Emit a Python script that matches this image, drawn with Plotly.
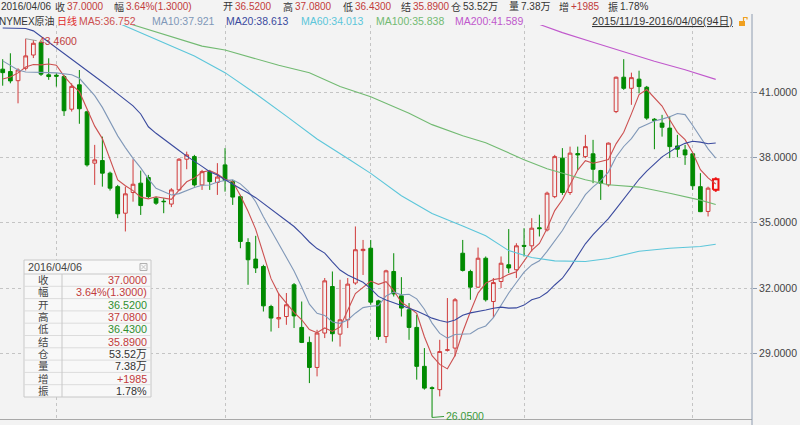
import plotly.graph_objects as go

# ---------------- data ----------------
opens = [42.06, 41.95, 41.53, 42.10, 42.71, 43.28, 41.80, 41.78, 41.72, 40.22,
         41.34, 40.10, 37.74, 37.86, 37.28, 36.66, 35.44, 36.39, 36.82, 37.08,
         36.13, 35.99, 35.86, 36.51, 37.92, 38.04, 36.74, 37.35, 36.85, 37.66,
         36.89, 36.20, 34.09, 33.33, 32.99, 31.15, 30.58, 30.69, 32.15, 30.19,
         29.50, 28.35, 29.93, 32.07, 29.88, 30.54, 32.23, 33.72, 33.83, 31.41,
         29.77, 32.76, 31.64, 31.00, 30.19, 28.40, 27.42, 27.33, 29.14, 29.24,
         33.60, 32.76, 32.04, 33.37, 31.38, 32.30, 33.07, 32.84, 33.96, 33.94,
         34.77, 34.67, 36.20, 37.97, 36.39, 38.18, 38.04, 38.17, 37.40, 36.74,
         40.11, 41.69, 41.18, 41.60, 41.23, 39.76, 39.58, 39.35, 38.53, 38.35,
         38.17, 36.66, 35.52, 36.52]
highs = [42.52, 42.79, 42.10, 43.46, 43.40, 43.37, 42.56, 41.87, 41.80, 41.41,
         42.02, 40.15, 38.58, 38.96, 37.35, 36.74, 36.66, 37.92, 37.40, 37.20,
         36.20, 36.13, 36.59, 37.97, 38.27, 38.12, 37.43, 37.43, 37.74, 38.43,
         36.97, 36.28, 34.29, 34.40, 33.07, 31.23, 31.77, 31.77, 32.23, 31.38,
         29.77, 30.08, 32.46, 32.76, 32.38, 32.46, 34.83, 34.21, 34.21, 31.46,
         32.84, 33.60, 32.50, 31.31, 30.77, 29.24, 27.48, 29.62, 31.54, 31.54,
         34.21, 32.84, 33.86, 33.45, 32.46, 33.45, 34.71, 34.06, 34.75, 35.21,
         35.37, 36.43, 38.12, 38.43, 38.50, 38.50, 39.04, 38.81, 37.43, 38.69,
         41.72, 42.52, 41.90, 41.99, 41.29, 39.81, 39.96, 39.88, 39.04, 38.58,
         38.17, 37.28, 36.66, 37.08]
lows = [41.30, 41.41, 40.49, 42.00, 42.57, 41.75, 41.57, 41.26, 39.91, 40.11,
        39.55, 37.58, 36.74, 36.66, 36.48, 35.21, 34.60, 35.97, 35.36, 36.13,
        35.82, 35.44, 35.72, 36.48, 37.46, 36.66, 36.51, 36.51, 36.28, 36.43,
        35.82, 33.83, 32.15, 32.69, 30.92, 30.00, 30.16, 30.31, 30.16, 29.47,
        27.63, 27.94, 29.70, 29.54, 29.31, 30.16, 32.15, 32.60, 31.23, 29.62,
        29.47, 31.61, 30.69, 29.62, 27.79, 27.33, 26.05, 27.02, 29.08, 28.86,
        32.76, 31.46, 32.00, 31.38, 30.62, 32.00, 32.69, 32.46, 33.45, 33.68,
        34.37, 34.60, 36.13, 36.28, 36.28, 37.43, 37.97, 36.82, 36.05, 36.66,
        40.04, 41.11, 40.42, 40.95, 39.73, 38.38, 38.96, 37.97, 38.01, 37.66,
        36.51, 35.49, 35.29, 36.43]
closes = [41.90, 41.52, 42.02, 42.67, 43.25, 41.83, 41.72, 41.74, 40.15, 41.27,
          40.24, 37.66, 37.89, 37.28, 36.59, 35.41, 36.33, 36.77, 35.79, 36.20,
          35.90, 35.97, 36.51, 37.92, 38.12, 36.74, 37.35, 36.89, 37.10, 36.94,
          36.18, 34.14, 33.30, 32.92, 31.18, 30.62, 30.64, 31.23, 30.72, 29.50,
          28.35, 29.93, 32.33, 29.90, 30.54, 32.18, 33.76, 33.78, 31.35, 29.77,
          32.79, 31.73, 31.08, 30.19, 28.40, 27.40, 27.38, 29.08, 29.16, 31.46,
          32.81, 32.04, 33.37, 31.46, 32.25, 33.14, 32.92, 33.94, 33.92, 34.75,
          34.73, 36.36, 38.04, 36.39, 38.20, 38.12, 38.50, 37.46, 36.82, 38.66,
          41.69, 41.18, 41.67, 41.26, 39.81, 39.70, 39.39, 38.50, 38.38, 38.12,
          36.70, 35.51, 36.59, 37.00]

# moving-average values at the left edge (before enough bars exist)
ma5_head = [41.61, 41.70, 41.89, 42.16]
ma10_head = [42.44, 42.21, 42.02, 41.93, 41.91, 41.90, 41.90, 41.89, 41.84]
ma20_head = [43.95, 43.95, 43.94, 43.93, 43.82, 43.56, 43.31, 43.06, 42.81, 42.53,
             42.25, 42.00, 41.75, 41.47, 41.20, 40.92, 40.65, 40.37, 40.00]

# long moving averages at selected bars
ma60_bars = [12, 16, 20, 25, 29, 33, 37, 41, 45, 48, 52, 56, 60, 63, 66, 69, 72, 76, 79, 83, 87, 91, 93]
ma60_vals = [44.65, 44.04, 43.40, 42.66, 41.90, 40.93, 39.90, 38.85, 37.95, 37.27, 36.24, 35.43,
             34.85, 34.40, 33.72, 33.40, 33.25, 33.22, 33.36, 33.69, 33.83, 33.91, 34.01]
ma100_bars = [13, 17, 21, 26, 29, 33, 36, 40, 44, 48, 53, 56, 60, 63, 68, 71, 76, 79, 83, 87, 91, 93]
ma100_vals = [44.53, 44.09, 43.66, 43.12, 42.94, 42.56, 42.24, 41.90, 41.26, 40.79, 40.03, 39.51,
              39.00, 38.68, 37.90, 37.48, 36.98, 36.75, 36.64, 36.36, 36.04, 35.84]
ma200_bars = [70, 73, 77, 80, 85, 89, 93]
ma200_vals = [44.12, 43.74, 43.30, 42.96, 42.42, 42.03, 41.59]

month_start_bars = [7, 29, 48, 68, 90]
y_ticks = [29, 32, 35, 38, 41]

quote_date = "2016/04/06"
info_labels = ["收", "幅", "开", "高", "低", "结", "仓", "量", "增", "振"]
info_values = ["37.0000", "3.64%(1.3000)", "36.5200", "37.0800", "36.4300",
               "35.8900", "53.52万", "7.38万", "+1985", "1.78%"]
ma_names = ["MA5", "MA10", "MA20", "MA60", "MA100", "MA200"]
ma_last = ["36.752", "37.921", "38.613", "34.013", "35.838", "41.589"]
instrument = "NYMEX原油"
period = "日线"
range_text = "2015/11/19-2016/04/06(94日)"

# ---------------- styling ----------------
BG = "#f3f3f3"
RED = "#c23b3b"
GREEN = "#2f8f2f"
DARK = "#333333"
UP = "#d03a3a"
DOWN = "#008a00"
MA_COLORS = ["#cc5050", "#8098b8", "#3a4a9e", "#5cc6da", "#72ba72", "#c058cc"]
FONT = "Liberation Sans, Arial, Noto Sans CJK SC, sans-serif"

W, H = 800, 425
PL, PR, PT, PB = 0, 752, 25, 419   # plot area in pixels

def xp(px):
    return (px - PL) / (PR - PL)

def yp(py):
    return (PB - py) / (PB - PT)

n = len(closes)
bars = list(range(n))

def rolling(vals, w, head):
    out = list(head)
    for i in range(w - 1, len(vals)):
        out.append(sum(vals[i - w + 1:i + 1]) / w)
    return out

ma5 = rolling(closes, 5, ma5_head)
ma10 = rolling(closes, 10, ma10_head)
ma20 = rolling(closes, 20, ma20_head)

fig = go.Figure()

fig.add_trace(go.Candlestick(
    x=bars, open=opens, high=highs, low=lows, close=closes,
    increasing=dict(line=dict(color=UP, width=1), fillcolor=BG),
    decreasing=dict(line=dict(color=DOWN, width=1), fillcolor=DOWN),
    hoverinfo="skip", showlegend=False,
))

# highlighted (selected) last candle
li = n - 1
hw = 0.36
fig.add_trace(go.Scatter(
    x=[bars[li] - hw, bars[li] + hw, bars[li] + hw, bars[li] - hw, bars[li] - hw],
    y=[opens[li], opens[li], closes[li], closes[li], opens[li]],
    mode="lines", line=dict(color="#ee1111", width=2), fill="toself", fillcolor=BG,
    hoverinfo="skip", showlegend=False))
fig.add_trace(go.Scatter(
    x=[bars[li], bars[li], None, bars[li], bars[li]],
    y=[highs[li], max(opens[li], closes[li]), None, min(opens[li], closes[li]), lows[li]],
    mode="lines", line=dict(color="#ee1111", width=2),
    hoverinfo="skip", showlegend=False))

for series, xs, col in [
    (ma5, bars, MA_COLORS[0]), (ma10, bars, MA_COLORS[1]), (ma20, bars, MA_COLORS[2]),
    (ma60_vals, ma60_bars, MA_COLORS[3]), (ma100_vals, ma100_bars, MA_COLORS[4]),
    (ma200_vals, ma200_bars, MA_COLORS[5])]:
    fig.add_trace(go.Scatter(x=xs, y=series, mode="lines",
                             line=dict(color=col, width=1.1),
                             hoverinfo="skip", showlegend=False))

annotations = []
shapes = []

def txt(px, py, text, color, size=10, anchor="left"):
    annotations.append(dict(x=xp(px), y=yp(py), xref="paper", yref="paper",
                            text=text, showarrow=False, xanchor=anchor, yanchor="middle",
                            font=dict(family=FONT, size=size, color=color)))

# header row 1
row1_x = [53, 112, 221, 281, 341, 399, 449, 507, 557, 606]
row1_val_colors = [RED, RED, RED, RED, RED, RED, DARK, DARK, RED, DARK]
txt(-1, 7, quote_date, DARK)
for lx, lab, val, col in zip(row1_x, info_labels, info_values, row1_val_colors):
    txt(lx, 7, lab, DARK)
    txt(lx + 12, 7, val, col)

# header row 2
txt(-3, 21, instrument, DARK)
txt(55, 21, period, "#e02a2a")
ma_x = [77, 150, 224, 299, 374, 453]
for mx, name, val, col in zip(ma_x, ma_names, ma_last, MA_COLORS):
    txt(mx, 21, f"{name}:{val}", col, size=10.5)
txt(590, 21, f"<u>{range_text}</u>", DARK, size=10.8)
# lock icon
shapes.append(dict(type="rect", xref="paper", yref="paper", x0=xp(739), x1=xp(745),
                   y0=yp(26), y1=yp(21), fillcolor="#f0a020", line=dict(width=0)))
shapes.append(dict(type="path", xref="paper", yref="paper",
                   path=f"M {xp(743.5)},{yp(21)} L {xp(743.5)},{yp(17.5)} L {xp(747)},{yp(17.5)} L {xp(747)},{yp(19.5)}",
                   line=dict(color="#f0a020", width=1.2)))

# right axis line continuing into the header row
shapes.append(dict(type="line", xref="paper", yref="paper", x0=xp(752), x1=xp(752),
                   y0=yp(14), y1=yp(425), line=dict(color="#8e9cb0", width=1)))

# extreme labels
imax = max(range(n), key=lambda i: highs[i])
imin = min(range(n), key=lambda i: lows[i])
annotations.append(dict(x=bars[imax], y=highs[imax], xref="x", yref="y",
                        text=f"{highs[imax]:.4f}", showarrow=True, arrowhead=0,
                        arrowwidth=1, arrowcolor="#a0a0a0", ax=11, ay=2,
                        xanchor="left", yanchor="middle", standoff=0,
                        font=dict(family=FONT, size=10.5, color="#c04040")))
annotations.append(dict(x=bars[imin], y=lows[imin], xref="x", yref="y",
                        text=f"{lows[imin]:.4f}", showarrow=True, arrowhead=0,
                        arrowwidth=1, arrowcolor="#3a9a3a", ax=12, ay=-1,
                        xanchor="left", yanchor="middle", standoff=0,
                        font=dict(family=FONT, size=10.5, color="#3a9a3a")))

# info box
bx0, bx1, by0, byh = 24, 151, 260, 274
rh = 12.3
by1 = byh + rh * len(info_labels)
shapes.append(dict(type="rect", xref="paper", yref="paper", x0=xp(bx0), x1=xp(bx1),
                   y0=yp(by1), y1=yp(by0), fillcolor="#f8f8f8",
                   line=dict(color="#c8c8c8", width=1), layer="above"))
shapes.append(dict(type="line", xref="paper", yref="paper", x0=xp(bx0), x1=xp(bx1),
                   y0=yp(byh), y1=yp(byh), line=dict(color="#c8c8c8", width=1), layer="above"))
for k in range(1, len(info_labels)):
    yy = byh + rh * k
    shapes.append(dict(type="line", xref="paper", yref="paper", x0=xp(bx0), x1=xp(bx1),
                       y0=yp(yy), y1=yp(yy), line=dict(color="#dcdcdc", width=1), layer="above"))
shapes.append(dict(type="line", xref="paper", yref="paper", x0=xp(62), x1=xp(62),
                   y0=yp(byh), y1=yp(by1), line=dict(color="#c8c8c8", width=1), layer="above"))
# close icon
shapes.append(dict(type="rect", xref="paper", yref="paper", x0=xp(140), x1=xp(147),
                   y0=yp(270.5), y1=yp(263.5), line=dict(color="#b0b0b0", width=1), layer="above"))
shapes.append(dict(type="path", xref="paper", yref="paper",
                   path=f"M {xp(141)},{yp(264.5)} L {xp(146)},{yp(269.5)} M {xp(146)},{yp(264.5)} L {xp(141)},{yp(269.5)}",
                   line=dict(color="#b8b8b8", width=0.8), layer="above"))
txt(26, 267, quote_date, "#444444", size=10.8)
box_colors = [RED, RED, GREEN, RED, GREEN, RED, DARK, DARK, RED, DARK]
for k, (lab, val, col) in enumerate(zip(info_labels, info_values, box_colors)):
    cy = byh + rh * k + rh / 2
    txt(43, cy, lab, "#444444", size=10.5, anchor="center")
    txt(149, cy, val, col, size=10.8, anchor="right")

fig.update_layout(
    width=W, height=H,
    margin=dict(l=PL, r=W - PR, t=PT, b=H - PB, pad=0),
    paper_bgcolor=BG, plot_bgcolor=BG,
    showlegend=False,
    annotations=annotations, shapes=shapes,
    xaxis=dict(range=[-0.352, 97.73], tickvals=month_start_bars, showticklabels=False,
               ticks="", showgrid=True, gridcolor="#c4c4c4", griddash="dot", gridwidth=1,
               showline=True, linecolor="#a8a8a8", linewidth=1, zeroline=False,
               rangeslider=dict(visible=False), fixedrange=True),
    yaxis=dict(range=[25.98, 44.09], side="right", tickvals=y_ticks,
               ticktext=[f"{v:.4f}" for v in y_ticks], ticks="outside", ticklen=4,
               tickcolor="#8e9cb0", showline=False, showgrid=True, gridcolor="#c4c4c4",
               griddash="dot", zeroline=False,
               tickfont=dict(family=FONT, size=10.5, color="#444444"), fixedrange=True),
)

fig.write_html("out.html", config={"displayModeBar": False},
               post_script="document.body.style.margin='0px';document.body.style.overflow='hidden';")
